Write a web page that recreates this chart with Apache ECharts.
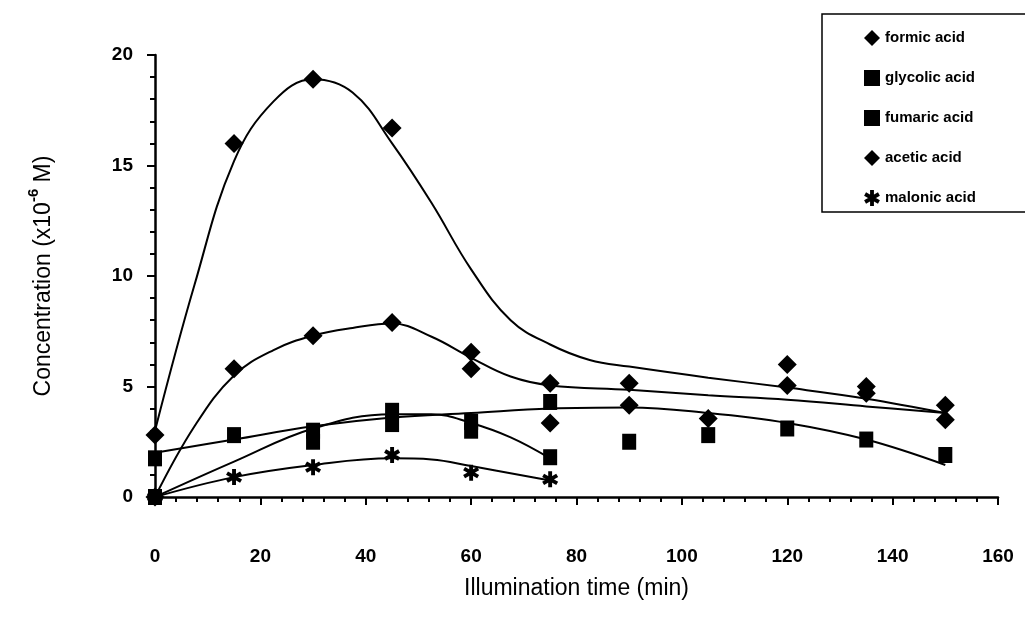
<!DOCTYPE html>
<html>
<head>
<meta charset="utf-8">
<script src="https://cdn.jsdelivr.net/npm/echarts@6/dist/echarts.min.js"></script>
<style>
  html, body { margin: 0; padding: 0; background: #fff; }
  #chart { width: 1025px; height: 624px; }
</style>
</head>
<body>
<div id="chart"></div>
<script>
// measured points, [time (min), concentration (x10^-6 M)]
const formic = [[0, 2.8], [15, 16.0], [30, 18.9], [45, 16.7], [60, 6.55], [75, 5.15], [90, 5.15], [120, 6.0], [135, 5.0], [150, 4.15]]
const glycolic = [[0, 1.75], [15, 2.8], [30, 3.0], [45, 3.3], [60, 3.4], [75, 4.3], [90, 2.5], [105, 2.8], [120, 3.1], [135, 2.6], [150, 1.9]]
const fumaric = [[0, 0], [30, 2.5], [45, 3.9], [60, 3.0], [75, 1.8]]
const acetic = [[0, 0], [15, 5.8], [30, 7.3], [45, 7.9], [60, 5.8], [75, 3.35], [90, 4.15], [105, 3.55], [120, 5.05], [135, 4.7], [150, 3.5]]
const malonic = [[0, 0], [15, 0.9], [30, 1.35], [45, 1.9], [60, 1.1], [75, 0.8]]

// fitted curves
const formicFit = [[0, 3.0], [7.5, 9.6], [15, 15.2], [22.5, 17.9], [30, 18.9], [37.5, 18.3], [45, 16.0], [52.5, 13.3], [60, 10.3], [67.5, 8.0], [75, 6.9], [82.5, 6.2], [90, 5.9], [105, 5.4], [120, 4.95], [135, 4.45], [150, 3.8]]
const aceticFit = [[0, 0], [7.5, 3.2], [15, 5.5], [22.5, 6.65], [30, 7.3], [37.5, 7.65], [45, 7.85], [52.5, 7.25], [60, 6.3], [67.5, 5.45], [75, 5.05], [90, 4.85], [105, 4.6], [120, 4.4], [135, 4.1], [150, 3.8]]
const glycolicFit = [[0, 2.0], [15, 2.6], [30, 3.2], [45, 3.6], [60, 3.8], [75, 4.0], [90, 4.05], [105, 3.8], [120, 3.35], [135, 2.6], [150, 1.45]]
const fumaricFit = [[0, 0], [15, 1.6], [30, 3.1], [45, 3.75], [52.5, 3.75], [60, 3.35], [67.5, 2.7], [75, 1.75]]
const malonicFit = [[0, 0], [15, 0.9], [30, 1.45], [45, 1.75], [52.5, 1.7], [60, 1.4], [75, 0.75]]

const xTicks = [0, 20, 40, 60, 80, 100, 120, 140, 160]
const yTicks = [0, 5, 10, 15, 20]

const asterisk = 'path://M3.8,0 L6.2,0 L6.2,10 L3.8,10 Z M1.27,1.46 L9.93,6.46 L8.73,8.54 L0.07,3.54 Z M9.93,3.54 L1.27,8.54 L0.07,6.46 L8.73,1.46 Z'
const font = 'Liberation Sans'

const fitLine = (data) => ({
  type: 'line',
  data: data,
  smooth: 0.4,
  showSymbol: false,
  silent: true,
  z: 2,
  lineStyle: { color: '#000', width: 2 }
})

const points = (name, data, symbol, size) => ({
  name: name,
  type: 'scatter',
  data: data,
  symbol: symbol,
  symbolSize: size,
  z: 5,
  itemStyle: { color: '#000', opacity: 1 }
})

const chart = echarts.init(document.getElementById('chart'))
chart.setOption({
  animation: false,
  textStyle: { fontFamily: font, color: '#000' },
  grid: { left: 155, right: 27, top: 55, bottom: 127 },
  legend: {
    orient: 'vertical',
    left: 822,
    top: 14,
    padding: [16, 70, 6, 42],
    itemWidth: 16,
    itemHeight: 16,
    itemGap: 24,
    borderColor: '#000',
    borderWidth: 1.5,
    textStyle: { fontFamily: font, fontSize: 15, fontWeight: 'bold', color: '#000' },
    data: [
      { name: 'formic acid', icon: 'diamond' },
      { name: 'glycolic acid', icon: 'rect' },
      { name: 'fumaric acid', icon: 'rect' },
      { name: 'acetic acid', icon: 'diamond' },
      { name: 'malonic acid', icon: asterisk }
    ]
  },
  xAxis: {
    type: 'value',
    min: xTicks[0],
    max: xTicks[xTicks.length - 1],
    interval: 20,
    name: 'Illumination time (min)',
    nameLocation: 'middle',
    nameGap: 80,
    nameTextStyle: { fontFamily: font, fontSize: 23, color: '#000' },
    axisLine: { lineStyle: { color: '#000', width: 2.5 } },
    axisTick: { inside: false, length: 8, lineStyle: { color: '#000', width: 2 } },
    minorTick: { show: true, splitNumber: 5, length: 5, lineStyle: { color: '#000', width: 2 } },
    splitLine: { show: false },
    axisLabel: { margin: 50, fontSize: 19, fontWeight: 'bold', color: '#000', fontFamily: font }
  },
  yAxis: {
    type: 'value',
    min: yTicks[0],
    max: yTicks[yTicks.length - 1],
    interval: 5,
    name: '{a|Concentration (x10}{sup|-6}{a| M)}',
    nameLocation: 'middle',
    nameGap: 100,
    nameTextStyle: {
      fontFamily: font,
      color: '#000',
      rich: {
        a: { fontFamily: font, fontSize: 23, color: '#000', verticalAlign: 'bottom' },
        sup: { fontFamily: font, fontSize: 15, fontWeight: 'bold', color: '#000', verticalAlign: 'bottom', padding: [0, 0, 14, 0] }
      }
    },
    axisLine: { show: true, lineStyle: { color: '#000', width: 2.5 } },
    axisTick: { show: true, inside: false, length: 8, lineStyle: { color: '#000', width: 2 } },
    minorTick: { show: true, splitNumber: 5, length: 5, lineStyle: { color: '#000', width: 2 } },
    splitLine: { show: false },
    axisLabel: { margin: 22, fontSize: 19, fontWeight: 'bold', color: '#000', fontFamily: font }
  },
  series: [
    fitLine(formicFit),
    fitLine(aceticFit),
    fitLine(glycolicFit),
    fitLine(fumaricFit),
    fitLine(malonicFit),
    points('formic acid', formic, 'diamond', 19),
    points('glycolic acid', glycolic, 'rect', [14, 16]),
    points('fumaric acid', fumaric, 'rect', [14, 16]),
    points('acetic acid', acetic, 'diamond', 19),
    points('malonic acid', malonic, asterisk, 16)
  ]
})
window.addEventListener('resize', () => {
  chart.resize()
})
</script>
</body>
</html>
